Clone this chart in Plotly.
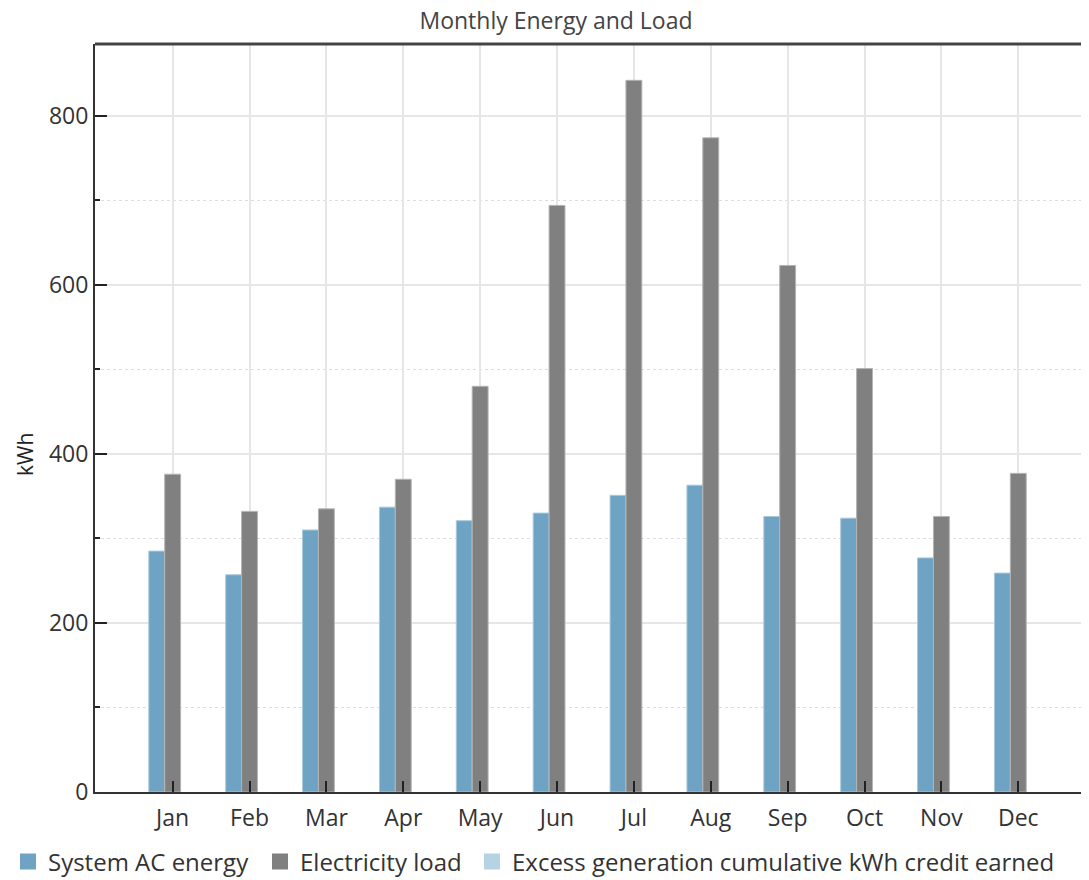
import plotly.graph_objects as go

months = ["Jan", "Feb", "Mar", "Apr", "May", "Jun", "Jul", "Aug", "Sep", "Oct", "Nov", "Dec"]
system_ac_energy = [285, 257, 310, 337, 321, 330, 351, 363, 326, 324, 277, 259]
electricity_load = [376, 332, 335, 370, 480, 694, 842, 774, 623, 501, 326, 377]
excess_credit = [0, 0, 0, 0, 0, 0, 0, 0, 0, 0, 0, 0]

series_names = ["System AC energy", "Electricity load", "Excess generation cumulative kWh credit earned"]
series_colors = ["#6ea3c4", "#808080", "#b5d3e3"]
series_lines = ["#a8c9dd", "#b4b4b4", "#b5d3e3"]
series_line_w = [1, 1, 0]
series_values = [system_ac_energy, electricity_load, excess_credit]

x_idx = list(range(len(months)))

FONT = "Open Sans"
TXT = "#333333"

# the page has an 8px body margin, so the figure is sized to fill the rest of the window
W, H = 1081, 872
L, T, B = 87, 36, 88
PLOT_W = W - L
PLOT_H = H - T - B

legend_ids = ["legend", "legend2", "legend3"]
legend_left_px = [0, 252, 464]

fig = go.Figure()
for name, col, lcol, lw, vals in zip(series_names, series_colors, series_lines, series_line_w, series_values):
    fig.add_trace(go.Bar(x=x_idx, y=vals, name=name, showlegend=False, legendgroup=name,
                         marker=dict(color=col, line=dict(color=lcol, width=lw))))
# legend entries (larger square swatches), one legend box per entry
for name, col, lid in zip(series_names, series_colors, legend_ids):
    fig.add_trace(go.Scatter(x=[None], y=[None], mode="markers", name=name, legendgroup=name,
                             legend=lid, marker=dict(symbol="square", size=16, color=col)))

legend_common = dict(orientation="h", xanchor="left", xref="container",
                     y=(H - 854) / H, yref="container", yanchor="middle",
                     font=dict(family=FONT, size=24, color=TXT),
                     itemwidth=30, itemsizing="trace", bgcolor="rgba(0,0,0,0)")

fig.update_layout(
    width=W, height=H,
    margin=dict(l=L, r=0, t=T, b=B, autoexpand=False),
    paper_bgcolor="white", plot_bgcolor="white",
    barmode="group", bargap=0.38, bargroupgap=0,
    font=dict(family=FONT, color=TXT),
    title=dict(text="Monthly Energy and Load", x=548 / W, xref="container", xanchor="center",
               y=1, yref="container", yanchor="top", pad=dict(t=5, b=0),
               font=dict(family=FONT, size=23, color="#444444")),
    showlegend=True,
    annotations=[dict(text="kWh", xref="paper", yref="paper", x=(1 - L) / PLOT_W, y=(T + PLOT_H - 447) / PLOT_H,
                      xanchor="left", yanchor="middle", textangle=-90, showarrow=False,
                      font=dict(family=FONT, size=21, color="#222222"))],
)
for lid, lx in zip(legend_ids, legend_left_px):
    fig.update_layout({lid: dict(legend_common, x=lx / W)})

fig.update_xaxes(
    range=[-1.01, 11.92], automargin=False,
    tickmode="array", tickvals=x_idx, ticktext=months,
    ticks="inside", ticklen=11, tickcolor="#222222", tickwidth=2,
    showline=True, linecolor="#333333", linewidth=2,
    showgrid=True, gridcolor="#e6e6e6", gridwidth=2,
    tickfont=dict(family=FONT, size=23, color=TXT), ticklabelstandoff=4,
    zeroline=False,
)
fig.update_yaxes(
    range=[0, 885], automargin=False,
    tickmode="array", tickvals=[0, 200, 400, 600, 800],
    ticks="inside", ticklen=12, tickcolor="#222222", tickwidth=2,
    showline=True, linecolor="#333333", linewidth=2,
    showgrid=True, gridcolor="#e6e6e6", gridwidth=2,
    tickfont=dict(family=FONT, size=23, color=TXT),
    zeroline=False,
    minor=dict(tickvals=[100, 300, 500, 700], ticks="inside", ticklen=5, tickcolor="#222222",
               showgrid=True, gridcolor="#dddddd", griddash="dot", gridwidth=1),
)

# top border line of plot area
fig.add_shape(type="line", xref="paper", yref="paper", x0=0, x1=1, y0=1, y1=1,
              line=dict(color="#444444", width=3))

fig.write_html("out.html")
